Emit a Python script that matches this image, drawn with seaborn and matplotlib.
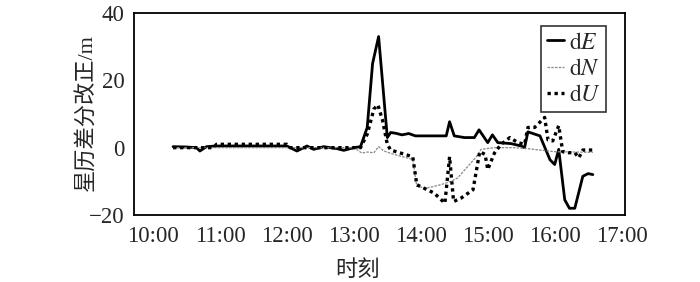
import numpy as np
import pandas as pd
import matplotlib
matplotlib.use("Agg")
import matplotlib.pyplot as plt
import seaborn as sns

# time in hours, values in metres
t_e = [10.30, 10.50, 10.65, 10.70, 10.80, 10.95, 11.20, 11.60, 12.00, 12.15, 12.30, 12.40, 12.55, 12.75, 12.85, 13.00,
       13.10, 13.20, 13.28, 13.37, 13.50, 13.55, 13.62, 13.72, 13.82, 13.92, 14.05, 14.20, 14.38, 14.43, 14.50, 14.65,
       14.80, 14.87, 15.00, 15.07, 15.15, 15.35, 15.50, 15.55, 15.60, 15.78, 15.93, 16.00, 16.06, 16.15, 16.22, 16.30,
       16.42, 16.50, 16.57]
d_e = [0.3, 0.2, 0.0, -1.0, 0.3, 0.5, 0.5, 0.5, 0.5, -1.0, 0.5, -0.5, 0.3, -0.3, -0.8, 0.0,
       0.3, 6.0, 25.0, 33.0, 3.0, 4.5, 4.3, 3.8, 4.2, 3.5, 3.5, 3.5, 3.5, 7.7, 3.5, 3.0,
       3.0, 5.3, 1.5, 3.8, 1.5, 1.2, 0.5, 0.0, 4.7, 3.5, -3.6, -5.0, -0.5, -15.5, -18.0, -18.0,
       -8.5, -7.7, -8.0]

t_n = [10.30, 11.00, 12.00, 13.00, 13.12, 13.20, 13.30, 13.37, 13.45, 13.60, 13.88, 13.94, 14.09, 14.30, 14.45,
       14.55, 14.83, 14.90, 15.10, 15.40, 15.60, 16.00, 16.30, 16.57]
d_n = [0.0, 0.0, 0.0, 0.0, -1.6, -1.3, -1.5, 0.3, -1.0, -2.0, -3.5, -11.5, -12.0, -11.0, -10.0,
       -9.0, -2.7, -0.5, 0.0, 0.0, -0.3, -1.2, -1.3, -1.4]

t_u = [10.30, 10.90, 10.95, 11.50, 12.00, 12.05, 12.50, 13.00, 13.10, 13.20, 13.30, 13.36, 13.43, 13.50, 13.55,
       13.88, 13.94, 14.20, 14.36, 14.43, 14.49, 14.60, 14.78, 14.88, 14.96, 15.00, 15.10, 15.20, 15.33, 15.45,
       15.55, 15.60, 15.70, 15.85, 15.90, 15.97, 16.06, 16.12, 16.20, 16.30, 16.36, 16.42, 16.57]
d_u = [0.0, 0.0, 1.0, 1.0, 1.0, 0.0, 0.0, 0.0, 0.0, 4.0, 11.5, 12.7, 8.0, 1.0, -0.7,
       -2.7, -11.0, -13.5, -16.5, -2.7, -16.0, -15.0, -12.5, -1.2, -2.0, -6.5, -1.6, 1.0, 3.0, 1.5,
       1.0, 6.0, 6.0, 9.0, 2.3, 2.0, 6.5, -1.2, -1.5, -1.5, -3.0, -0.7, -0.7]

x_ticks = [10, 11, 12, 13, 14, 15, 16, 17]
x_labels = ["10:00", "11:00", "12:00", "13:00", "14:00", "15:00", "16:00", "17:00"]
y_ticks = [-20, 0, 20, 40]

sns.set_style("white")
plt.rcParams["font.family"] = ["Liberation Serif", "Noto Sans CJK SC"]
plt.rcParams["mathtext.fontset"] = "stix"
plt.rcParams["axes.unicode_minus"] = True

fig = plt.figure(figsize=(7, 2.82), dpi=100)
ax = fig.add_axes([134 / 700, 1 - 215 / 282, 491 / 700, 202 / 282])

df_e = pd.DataFrame({"t": t_e, "v": d_e})
df_n = pd.DataFrame({"t": t_n, "v": d_n})
df_u = pd.DataFrame({"t": t_u, "v": d_u})

sns.lineplot(data=df_e, x="t", y="v", ax=ax, color="black", lw=2.0, estimator=None,
             label=r"$\mathrm{d}E$")
sns.lineplot(data=df_n, x="t", y="v", ax=ax, color="#888888", lw=0.9, estimator=None,
             dashes=False, label=r"$\mathrm{d}N$")
ax.lines[-1].set_linestyle((0, (2, 1)))
sns.lineplot(data=df_u, x="t", y="v", ax=ax, color="black", lw=2.4, estimator=None,
             label=r"$\mathrm{d}U$")
ax.lines[-1].set_linestyle((0, (1, 1.1)))

ax.set_xlim(9 + 43 / 60, 17 + 3 / 60)
ax.set_ylim(-20, 40)
ax.set_xticks(x_ticks)
ax.set_xticklabels(x_labels)
ax.set_yticks(y_ticks)
ax.tick_params(axis="both", direction="in", length=5, width=1.2, labelsize=16.5, pad=7, color="black")
ax.tick_params(axis="x", pad=8)
for s in ax.spines.values():
    s.set_color("black")
    s.set_linewidth(1.3)

ax.set_xlabel("时刻", fontsize=16)
ax.set_ylabel("星历差分改正/m", fontsize=16)
ax.xaxis.set_label_coords((357 - 134) / 491, -0.225)
ax.yaxis.set_label_coords((97 - 134) / 491, 0.505)

leg = ax.legend(loc="upper right", bbox_to_anchor=(0.962, 0.935), fontsize=17, frameon=True,
                fancybox=False, handlelength=0.7, handletextpad=0.2, borderpad=0.25,
                labelspacing=0.2, borderaxespad=0)
leg.get_frame().set_edgecolor("black")
leg.get_frame().set_linewidth(1.2)

fig.savefig("out.png", dpi=100)
